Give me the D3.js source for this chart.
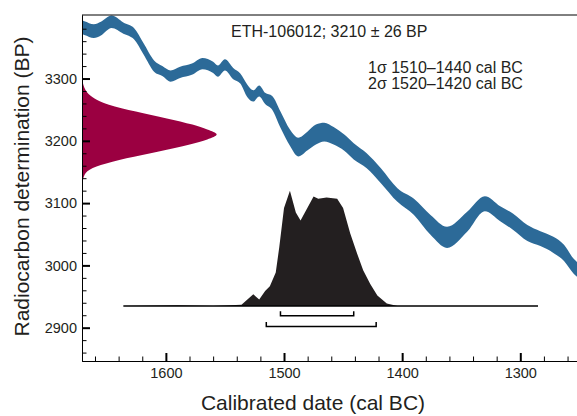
<!DOCTYPE html>
<html lang="en">
<head>
<meta charset="UTF-8">
<title>ETH-106012 calibration</title>
<script src="https://d3js.org/d3.v7.min.js"></script>
<style>
    body { margin: 0; background: #fff; }
    svg { display: block; font-family: "Liberation Sans", Arial, sans-serif; }
    .axis path, .axis line { stroke: #000; }
    .axis text { font-size: 14.5px; fill: #231f20; font-family: "Liberation Sans", Arial, sans-serif; }
</style>
</head>
<body>
<script>
    // calibration curve (cal BC, BP, 1 sigma)
    const curveCal = [1675, 1669, 1661, 1655, 1646, 1636, 1627, 1619, 1610, 1603, 1596, 1588, 1578, 1569, 1560,
        1556, 1550, 1543, 1537, 1531, 1526, 1521, 1516, 1510, 1503, 1495, 1488, 1480, 1473, 1466,
        1458, 1449, 1441, 1430, 1418, 1404, 1390, 1376, 1362, 1345, 1330, 1317, 1306, 1294, 1283,
        1272, 1263, 1255, 1248];
    const curveBP = [3384, 3381, 3376, 3380, 3391, 3381, 3372, 3348, 3320, 3312, 3304, 3310, 3315, 3324, 3318,
        3312, 3322, 3308, 3300, 3280, 3272, 3280, 3268, 3261, 3234, 3205, 3190, 3200, 3210, 3214,
        3208, 3197, 3183, 3168, 3144, 3113, 3094, 3065, 3045, 3070, 3099, 3083, 3070, 3052, 3043,
        3033, 3020, 2999, 2988];
    const curveErr = [11, 11, 11, 11, 10, 9, 9, 9, 9, 8, 9, 9, 9, 9, 9,
        9, 9, 9, 8, 10, 9, 9, 9, 11, 13, 13, 15, 15, 16, 15,
        14, 13, 13, 12, 12, 11, 13, 16, 17, 16, 12, 12, 13, 13, 12,
        13, 13, 12, 12];

    // measured radiocarbon age
    const sampleLabel = "ETH-106012; 3210 ± 26 BP";
    const rangeLabels = ["1σ 1510–1440 cal BC", "2σ 1520–1420 cal BC"];
    const measBP = [3300, 3290, 3282, 3274, 3258, 3247, 3236, 3226, 3218, 3210, 3202, 3194, 3183, 3172, 3161, 3151, 3140, 3125];
    const measDens = [0, 0.01, 0.025, 0.055, 0.20, 0.40, 0.63, 0.82, 0.93, 1, 0.93, 0.80, 0.57, 0.33, 0.14, 0.04, 0.01, 0];

    // calibrated probability distribution
    const probCal = [1636, 1590, 1560, 1536, 1526, 1521, 1516, 1512, 1507, 1504, 1500, 1495, 1490, 1486,
        1475, 1471, 1464, 1455, 1450, 1444, 1438, 1433, 1427, 1421, 1413, 1404, 1285];
    const probDens = [0, 0.005, 0, 0.01, 0.10, 0.055, 0.13, 0.17, 0.29, 0.51, 0.85, 1, 0.81, 0.74,
        0.95, 0.93, 0.94, 0.93, 0.85, 0.63, 0.45, 0.31, 0.19, 0.09, 0.02, 0, 0];
    const rangeFrom = [1503, 1515];
    const rangeTo = [1441, 1422];
    const rangeBP = [2919, 2902];

    const xTicks = [1600, 1500, 1400, 1300];
    const yTicks = [2900, 3000, 3100, 3200, 3300];

    const width = 577, height = 416;
    const mLeft = 82, mRight = 577, mTop = 15, mBottom = 361;

    const x = d3.scaleLinear().domain([1671, 1252]).range([mLeft, mRight]);
    const y = d3.scaleLinear().domain([2846.5, 3402]).range([mBottom, mTop]);
    // density scales (peak sizes)
    const measX = d3.scaleLinear().domain([0, 1]).range([mLeft, x(1557)]);
    const probY = d3.scaleLinear().domain([0, 1]).range([y(2935), y(3120)]);

    const svg = d3.select("body").append("svg")
        .attr("width", width)
        .attr("height", height);

    svg.append("defs").append("clipPath").attr("id", "plot")
        .append("rect").attr("x", mLeft).attr("y", mTop)
        .attr("width", mRight - mLeft).attr("height", mBottom - mTop);

    const g = svg.append("g").attr("clip-path", "url(#plot)");

    // calibration band
    const band = curveCal.map((c, i) => ({cal: c, bp: curveBP[i], err: curveErr[i]}));
    g.append("path")
        .datum(band)
        .attr("fill", "#2c6a98")
        .attr("d", d3.area()
            .x(d => x(d.cal))
            .y0(d => y(d.bp - d.err))
            .y1(d => y(d.bp + d.err))
            .curve(d3.curveMonotoneX));

    // measured age distribution on the y axis
    const meas = measBP.map((b, i) => ({bp: b, p: measDens[i]}));
    g.append("path")
        .datum(meas)
        .attr("fill", "#9b0041")
        .attr("d", d3.area()
            .y(d => y(d.bp))
            .x0(mLeft)
            .x1(d => measX(d.p))
            .curve(d3.curveMonotoneY));

    // calibrated distribution
    const prob = probCal.map((c, i) => ({cal: c, p: probDens[i]}));
    g.append("path")
        .datum(prob)
        .attr("fill", "#231f20")
        .attr("d", d3.area()
            .x(d => x(d.cal))
            .y0(probY(0))
            .y1(d => probY(d.p)));

    g.append("line")
        .attr("x1", x(probCal[0])).attr("x2", x(probCal[probCal.length - 1]))
        .attr("y1", probY(0)).attr("y2", probY(0))
        .attr("stroke", "#000").attr("stroke-width", 1.5);

    // 1 and 2 sigma ranges
    rangeFrom.forEach(function (f, i) {
        const yy = y(rangeBP[i]);
        g.append("path")
            .attr("fill", "none")
            .attr("stroke", "#000")
            .attr("stroke-width", 1.5)
            .attr("d", `M ${x(f)} ${yy - 4.5} V ${yy} H ${x(rangeTo[i])} V ${yy - 4.5}`);
    });

    // axes: minor then major ticks
    const xMinor = d3.range(1660, 1250, -20).filter(v => v % 100 !== 0);
    const yMinor = d3.range(2860, 3401, 20).filter(v => v % 100 !== 0);

    svg.append("g").attr("class", "axis")
        .attr("transform", `translate(0,${mBottom})`)
        .call(d3.axisBottom(x).tickValues(xMinor).tickSize(-4.5).tickSizeOuter(0).tickFormat(""));
    svg.append("g").attr("class", "axis")
        .attr("transform", `translate(${mLeft},0)`)
        .call(d3.axisLeft(y).tickValues(yMinor).tickSize(-4.5).tickSizeOuter(0).tickFormat(""));

    const xAxis = svg.append("g").attr("class", "axis")
        .attr("transform", `translate(0,${mBottom})`)
        .call(d3.axisBottom(x).tickValues(xTicks).tickSize(-8).tickSizeOuter(0)
            .tickPadding(7).tickFormat(d3.format("d")));
    xAxis.selectAll("line").attr("stroke-width", 2);

    const yAxis = svg.append("g").attr("class", "axis")
        .attr("transform", `translate(${mLeft},0)`)
        .call(d3.axisLeft(y).tickValues(yTicks).tickSize(-8).tickSizeOuter(0)
            .tickPadding(5).tickFormat(d3.format("d")));
    yAxis.selectAll("line").attr("stroke-width", 2);

    // top frame line
    svg.append("line")
        .attr("x1", mLeft).attr("x2", mRight)
        .attr("y1", mTop).attr("y2", mTop)
        .attr("stroke", "#000");

    // annotations
    svg.append("text")
        .attr("x", 231).attr("y", 36.5)
        .attr("font-size", 16).attr("fill", "#231f20")
        .text(sampleLabel);

    svg.selectAll("text.range")
        .data(rangeLabels)
        .enter().append("text")
        .attr("class", "range")
        .attr("x", 368)
        .attr("y", (d, i) => 72.7 + i * 16.6)
        .attr("font-size", 16).attr("fill", "#231f20")
        .text(d => d);

    svg.append("text")
        .attr("x", 313).attr("y", 410)
        .attr("text-anchor", "middle")
        .attr("font-size", 21).attr("fill", "#231f20")
        .text("Calibrated date (cal BC)");

    svg.append("text")
        .attr("transform", "translate(29,186.5) rotate(-90)")
        .attr("text-anchor", "middle")
        .attr("font-size", 21).attr("fill", "#231f20")
        .text("Radiocarbon determination (BP)");
</script>
</body>
</html>
